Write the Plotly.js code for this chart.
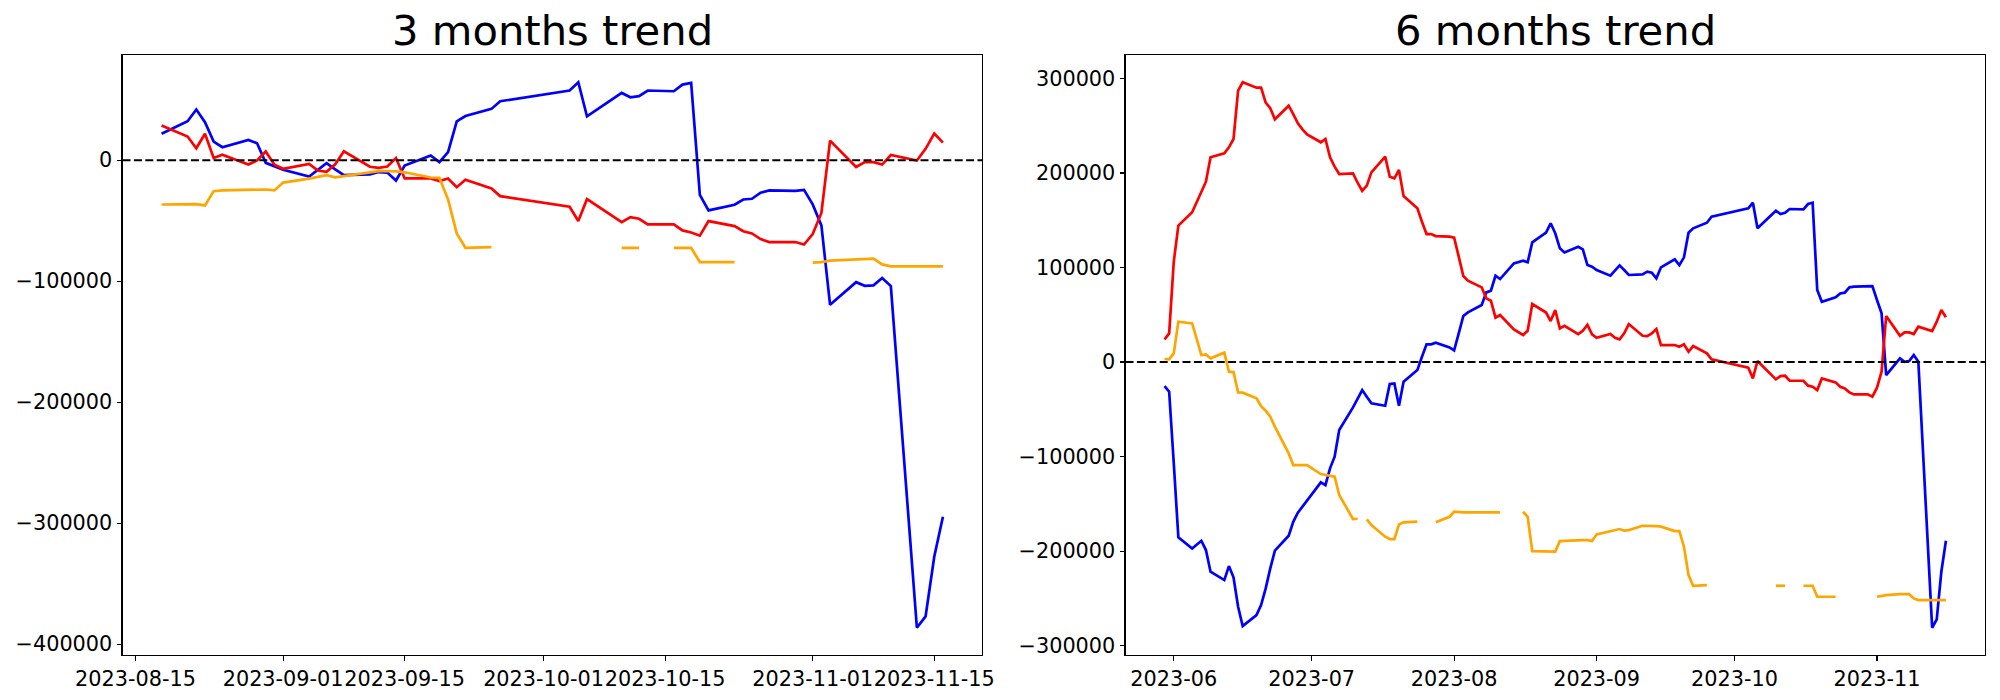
<!DOCTYPE html>
<html>
<head>
<meta charset="utf-8">
<script src="https://cdn.plot.ly/plotly-3.0.1.min.js"></script>
<style>
  html, body { margin: 0; padding: 0; background: #ffffff; }
  #chart { width: 2000px; height: 700px; }
</style>
</head>
<body>
<div id="chart"></div>
<script>
// ---------------- DATA ----------------
const titleThree = "3 months trend";
const titleSix = "6 months trend";

// trading dates of the 3-month window
const datesThree = [
  '2023-08-18','2023-08-21','2023-08-22','2023-08-23','2023-08-24','2023-08-25',
  '2023-08-28','2023-08-29','2023-08-30','2023-08-31','2023-09-01',
  '2023-09-04','2023-09-05','2023-09-06','2023-09-07','2023-09-08',
  '2023-09-11','2023-09-12','2023-09-13','2023-09-14','2023-09-15',
  '2023-09-18','2023-09-19','2023-09-20','2023-09-21','2023-09-22',
  '2023-09-25','2023-09-26',
  '2023-10-04','2023-10-05','2023-10-06',
  '2023-10-10','2023-10-11','2023-10-12','2023-10-13',
  '2023-10-16','2023-10-17','2023-10-18','2023-10-19','2023-10-20',
  '2023-10-23','2023-10-24','2023-10-25','2023-10-26','2023-10-27',
  '2023-10-30','2023-10-31','2023-11-01','2023-11-02','2023-11-03',
  '2023-11-06','2023-11-07','2023-11-08','2023-11-09','2023-11-10',
  '2023-11-13','2023-11-14','2023-11-15','2023-11-16'
];

// extra trading dates before the 3-month window (6-month chart)
const datesSixEarly = [
  '2023-05-30','2023-05-31','2023-06-01','2023-06-02',
  '2023-06-05','2023-06-06','2023-06-07','2023-06-08','2023-06-09',
  '2023-06-12','2023-06-13','2023-06-14','2023-06-15','2023-06-16',
  '2023-06-19','2023-06-20','2023-06-21','2023-06-22','2023-06-23',
  '2023-06-26','2023-06-27','2023-06-28','2023-06-29','2023-06-30',
  '2023-07-03','2023-07-04','2023-07-05','2023-07-06','2023-07-07',
  '2023-07-10','2023-07-11','2023-07-12','2023-07-13','2023-07-14',
  '2023-07-17','2023-07-18','2023-07-19','2023-07-20','2023-07-21',
  '2023-07-24','2023-07-25','2023-07-26','2023-07-27','2023-07-28',
  '2023-07-31','2023-08-01','2023-08-02','2023-08-03','2023-08-04',
  '2023-08-07','2023-08-08','2023-08-09','2023-08-10','2023-08-11',
  '2023-08-14','2023-08-15','2023-08-16','2023-08-17'
];
const datesSix = datesSixEarly.concat(datesThree);

// 3-month series
const blueThree = [
  21800,32200,41900,31400,15400,10700,
  16800,14000,-2200,-4900,-7900,
  -13500,-7900,-2400,-7600,-12400,
  -11700,-9800,-10200,-16800,-4400,
  3900,-1600,6600,32000,36500,
  42400,48700,
  57600,64400,36300,
  55600,52000,52900,57600,
  57000,62500,63900,-28600,-41500,
  -36800,-32500,-31900,-26900,-25000,
  -25400,-24500,-36500,-53900,-119500,
  -100800,-103800,-103400,-97400,-104000,
  -386400,-377000,-327800,-294700
];
const redThree = [
  28700,19600,9900,21800,1800,4500,
  -3600,-200,7200,-3700,-7100,
  -3000,-8500,-9600,-3400,7300,
  -5400,-6400,-5200,1800,-15100,
  -15100,-17300,-15100,-22300,-16200,
  -23300,-29700,
  -38500,-50300,-32200,
  -51200,-47000,-48400,-53100,
  -53100,-58000,-59700,-62400,-50300,
  -54500,-58700,-60500,-65200,-67700,
  -67600,-69700,-61000,-43600,16200,
  -5600,-1600,-1600,-3600,4300,
  -300,9400,22000,14500
];
const orangeThree = [
  -36600,-36600,-36300,-37400,-25600,-25000,
  -24200,-24200,-24200,-25000,-18500,
  -15200,-14000,-12300,-14200,-13200,
  -9600,-9100,-9100,-9200,-10000,
  -14300,-14600,-32500,-60500,-72400,
  -71800,null,
  null,null,null,
  -72400,-72400,-72400,null,
  -72400,-72400,-72400,-84200,-84200,
  -84200,null,null,null,null,
  null,null,-84600,-84200,-83000,
  -81700,-81400,-81400,-86100,-87700,
  -87800,-87800,-87800,-87800
];

// 6-month series
const blueSix = [
  -25400,-31400,-107000,-185500,
  -197200,-193500,-189100,-198900,-221900,
  -230700,-215900,-227800,-258900,-279400,
  -267700,-257100,-239500,-218300,-199600,
  -183800,-169000,-159400,-153100,-147100,
  -127300,-130200,-112500,-100200,-72000,
  -48000,-38700,-29600,-36700,-43700,
  -46200,-23300,-22600,-46200,-20800,
  -8500,5600,18700,18700,20500,
  15500,12300,30300,48700,52600,
  60300,73700,75500,91300,87800,
  104400,106100,107200,105500,
  126600,137000,146800,136200,120300,116000,
  122000,119200,102600,100900,97400,
  91300,96600,102300,97400,92100,
  92800,95600,94500,88500,100200,
  108700,102600,110800,136800,141500,
  147400,153800,
  162600,168600,141500,
  160100,156600,158000,161900,
  161500,167200,168600,76200,63800,
  68400,72600,73400,79000,79700,
  79700,80400,65600,51500,-13800,
  3900,300,1100,7400,300,
  -281100,-272300,-221900,-189100
];
const redSix = [
  24000,30300,106100,144300,
  158400,169700,180200,190800,216600,
  220800,227200,236000,287100,296000,
  290300,290300,274400,268500,256800,
  271200,262400,252600,246200,240900,
  232500,236000,216600,206700,198900,
  199700,189700,181000,186600,200700,
  217300,196100,194400,203200,175700,
  162600,148500,135400,135400,133300,
  132600,131500,111500,91000,86100,
  79000,67400,64900,46900,49700,
  34600,31400,28600,33100,
  61400,52400,43400,55000,35600,38400,
  29600,33100,39500,29300,25700,
  29600,25700,24000,30300,40200,
  27800,27500,30300,34900,18000,
  18000,16200,18700,10900,16900,
  9200,2800,
  -6000,-17300,1100,
  -18300,-14800,-14500,-19800,
  -19800,-25000,-26100,-29600,-17300,
  -21500,-26100,-27900,-32100,-34200,
  -34200,-36700,-27100,-10200,48700,
  27800,31400,31400,29600,37400,
  32800,42700,55000,47300
];
const orangeSix = [
  3200,2800,9200,42700,
  40900,23300,7400,8100,3900,
  9900,-10200,-10600,-32100,-32400,
  -38400,-46600,-51500,-57900,-68400,
  -96600,-109000,-109000,-109000,-109000,
  -118500,-119500,-120300,-121300,-140700,
  -166100,-165800,null,-166400,-172500,
  -184800,-187300,-187300,-171800,-169600,
  -168900,null,null,null,-169600,
  -163700,-158400,-159100,-159100,-159100,
  -159100,-159100,-159100,-159100,-159100,
  null,null,-158400,-163700,
  -200000,-200000,-200300,-200600,-189400,-189100,
  -188400,-188400,-188400,-189400,-182300,
  -178800,-177800,-176700,-178400,-177800,
  -173200,-173200,-173200,-173500,-174200,
  -178800,-178800,-195400,-225400,-236700,
  -236000,null,
  null,null,null,
  -236700,-236700,-236700,null,
  -236700,-236700,-236700,-248300,-248300,
  -248300,null,null,null,null,
  null,null,-248300,-247300,-246600,
  -245600,-245600,-245600,-250100,-251800,
  -251800,-251800,-251800,-251800
];

// tick positions and labels
const xTickValsThree = ['2023-08-15','2023-09-01','2023-09-15','2023-10-01','2023-10-15','2023-11-01','2023-11-15'];
const xTickTextThree = ['2023-08-15','2023-09-01','2023-09-15','2023-10-01','2023-10-15','2023-11-01','2023-11-15'];
const xTickValsSix = ['2023-06-01','2023-07-01','2023-08-01','2023-09-01','2023-10-01','2023-11-01'];
const xTickTextSix = ['2023-06','2023-07','2023-08','2023-09','2023-10','2023-11'];
const yTickValsThree = [-400000,-300000,-200000,-100000,0];
const yTickTextThree = ['\u2212400000','\u2212300000','\u2212200000','\u2212100000','0'];
const yTickValsSix = [-300000,-200000,-100000,0,100000,200000,300000];
const yTickTextSix = ['\u2212300000','\u2212200000','\u2212100000','0','100000','200000','300000'];

const colBlue = '#0000ff', colRed = '#ff0000', colOrange = '#ffa500';

// ---------------- helpers ----------------
function toMs(s) { const p = s.split('-').map(Number); return Date.UTC(p[0], p[1]-1, p[2]); }
function msToStr(ms) { return new Date(ms).toISOString().replace('T',' ').replace('Z',''); }
function dateRange(dates) {
  const a = toMs(dates[0]), b = toMs(dates[dates.length-1]);
  const m = 0.05*(b-a);
  return [msToStr(a-m), msToStr(b+m)];
}
function valRange(arrs) {
  let lo = Infinity, hi = -Infinity;
  arrs.forEach(a => a.forEach(v => { if (v !== null) { lo = Math.min(lo, v); hi = Math.max(hi, v); } }));
  const m = 0.05*(hi-lo);
  return [lo-m, hi+m];
}

const lw = 2.7;
function line(x, y, color, xa, ya) {
  return { type:'scatter', mode:'lines', x:x, y:y, xaxis:xa, yaxis:ya,
           line:{color:color, width:lw}, connectgaps:false, hoverinfo:'skip', showlegend:false };
}

const traces = [
  line(datesThree, blueThree, colBlue, 'x', 'y'),
  line(datesThree, redThree, colRed, 'x', 'y'),
  line(datesThree, orangeThree, colOrange, 'x', 'y'),
  line(datesSix, blueSix, colBlue, 'x2', 'y2'),
  line(datesSix, redSix, colRed, 'x2', 'y2'),
  line(datesSix, orangeSix, colOrange, 'x2', 'y2')
];

const tickFont = {family:'DejaVu Sans', size:20.8, color:'#000000'};
const common = {
  showgrid:false, zeroline:false, showline:true, mirror:true,
  linecolor:'#000000', linewidth:1.1,
  ticks:'outside', ticklen:4.9, tickwidth:1.1, tickcolor:'#000000',
  tickfont:tickFont, tickangle:0, fixedrange:true
};
const yDom = [1-655/700, 1-55/700];

const layout = {
  width:2000, height:700,
  margin:{l:0, r:0, t:0, b:0, pad:0},
  paper_bgcolor:'#ffffff', plot_bgcolor:'#ffffff',
  font:{family:'DejaVu Sans', color:'#000000'},
  showlegend:false,
  xaxis: Object.assign({}, common, {domain:[122.5/2000, 982/2000], type:'date', anchor:'y',
          range:dateRange(datesThree), tickmode:'array', tickvals:xTickValsThree, ticktext:xTickTextThree}),
  yaxis: Object.assign({}, common, {domain:yDom, anchor:'x',
          range:valRange([blueThree, redThree, orangeThree]), tickmode:'array', tickvals:yTickValsThree, ticktext:yTickTextThree}),
  xaxis2: Object.assign({}, common, {domain:[1125.5/2000, 1985/2000], type:'date', anchor:'y2',
          range:dateRange(datesSix), tickmode:'array', tickvals:xTickValsSix, ticktext:xTickTextSix}),
  yaxis2: Object.assign({}, common, {domain:yDom, anchor:'x2',
          range:valRange([blueSix, redSix, orangeSix]), tickmode:'array', tickvals:yTickValsSix, ticktext:yTickTextSix}),
  shapes: [
    {type:'line', xref:'x domain', yref:'y', x0:0, x1:1, y0:0, y1:0, layer:'above',
     line:{color:'#000000', width:2.1, dash:'8px,3.4px'}},
    {type:'line', xref:'x2 domain', yref:'y2', x0:0, x1:1, y0:0, y1:0, layer:'above',
     line:{color:'#000000', width:2.1, dash:'8px,3.4px'}}
  ],
  annotations: [
    {xref:'x domain', yref:'y domain', x:0.5, y:1, xanchor:'center', yanchor:'bottom', yshift:-2,
     showarrow:false, text:titleThree, font:{family:'DejaVu Sans', size:41.7, color:'#000000'}},
    {xref:'x2 domain', yref:'y2 domain', x:0.5, y:1, xanchor:'center', yanchor:'bottom', yshift:-2,
     showarrow:false, text:titleSix, font:{family:'DejaVu Sans', size:41.7, color:'#000000'}}
  ]
};

Plotly.newPlot('chart', traces, layout, {staticPlot:true, displayModeBar:false});
</script>
</body>
</html>
